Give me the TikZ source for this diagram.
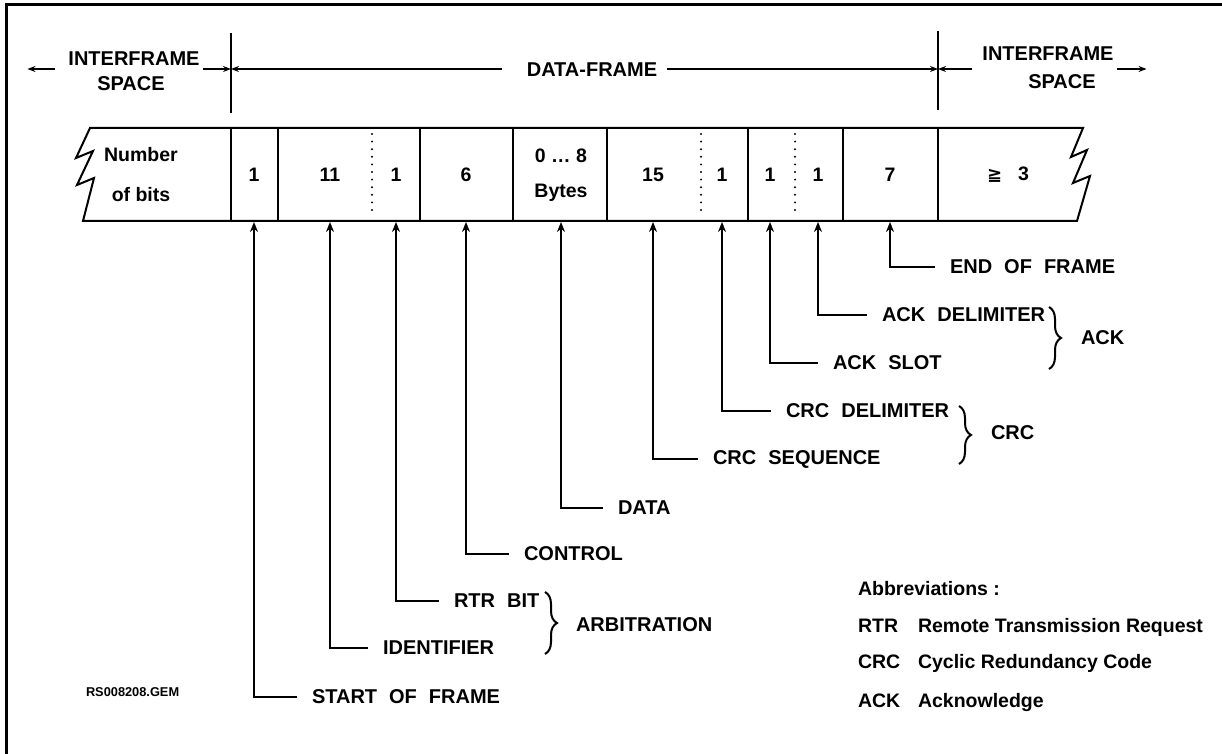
\documentclass[tikz,border=0pt]{standalone}
\usepackage{fontspec}
\setmainfont{Liberation Sans}
\newfontfamily\symfont{DejaVu Sans}
\usetikzlibrary{arrows.meta,decorations.pathreplacing,calc}
\newcommand\myWideSpaces{\spaceskip=0.6em\relax}
\begin{document}
\begin{tikzpicture}[x=0.5pt,y=-0.5pt,line width=1pt,
  capstxt/.style={font=\bfseries\fontsize{10}{12}\selectfont\myWideSpaces, inner sep=0pt},
  plaintxt/.style={font=\bfseries\fontsize{9.75}{12}\selectfont, inner sep=0pt},
  abbtxt/.style={plaintxt, anchor=base west},
  bitcell/.style={plaintxt, minimum height=46pt, align=center},
  bitlbl/.style={capstxt, anchor=west, inner xsep=7pt, inner ysep=0pt},
  uparr/.style={-{Stealth[length=5pt,width=4pt]}},
  dimarr/.style={-{Stealth[length=4pt,width=3pt]}},
  brc/.style={decorate, decoration={brace, amplitude=6pt, aspect=0.5}},
  dotdiv/.style={line width=1.1pt, dash pattern=on 0pt off 3.8pt, line cap=round}]
\useasboundingbox (0,0) rectangle (1222,754);
% frame border
\draw[line width=1.5pt] (6,754) -- (6,5) -- (1222,5);

% bar outline with torn ends
\draw (1083,128) -- (90,128) -- (76,158) -- (93,151) -- (77,185) -- (94,178) -- (83,221)
  -- (1077,221) -- (1090,176) -- (1073,183) -- (1087,150) -- (1071,157) -- cycle;

% dividers
\foreach \x in {231,278,420,513,607,748,843,938} \draw (\x,128) -- (\x,221);
\foreach \x in {372,701,795} \draw[dotdiv] (\x,134) -- (\x,217);

% cell contents
\node[bitcell, font=\bfseries\fontsize{9.75}{20}\selectfont] (c0) at (141,175) {Number\\of bits};
\node[bitcell] (c1) at (254,175) {1};
\node[bitcell] (c2) at (330,175) {11};
\node[bitcell] (c3) at (396,175) {1};
\node[bitcell] (c4) at (466,175) {6};
\node[bitcell, font=\bfseries\fontsize{9.75}{17.5}\selectfont] (c5) at (561,175) {0 … 8\\Bytes};
\node[bitcell] (c6) at (653,175) {15};
\node[bitcell] (c7) at (722,175) {1};
\node[bitcell] (c8) at (770,175) {1};
\node[bitcell] (c9) at (818,175) {1};
\node[bitcell] (c10) at (890,175) {7};
\node[bitcell] (c11) at (1008,175) {{\symfont\bfseries\fontsize{9}{12}\selectfont ≧}\hspace{8pt}3};

% top dimension line
\draw (231,33) -- (231,113);
\draw (938,31) -- (938,110);
\coordinate (tickL) at (231,69);
\coordinate (tickR) at (938,69);
\node[capstxt, inner xsep=1pt] (ifl1) at (134,59) {INTERFRAME};
\node[capstxt] (ifl2) at (131,84) {SPACE};
\node[capstxt, inner xsep=1pt] (ifr1) at (1048,54) {INTERFRAME};
\node[capstxt] (ifr2) at (1062,82) {SPACE};
\node[capstxt] (df) at (592,70) {DATA-FRAME};
\draw[dimarr] ($(ifl1.west |- tickL)+(-5pt,0)$) -- ++(-14pt,0);
\draw[dimarr] (ifl1.east |- tickL) -- (tickL);
\draw[dimarr] ($(df.west |- tickL)+(-12pt,0)$) -- (tickL);
\draw[dimarr] ($(df.east |- tickR)+(4.5pt,0)$) -- (tickR);
\draw[dimarr] ($(ifr1.west |- tickR)+(-3.5pt,0)$) -- (tickR);
\draw[dimarr] (ifr1.east |- tickR) -- ++(15pt,0);

% field labels
\node[bitlbl] (leof)  at (935,267) {END OF FRAME};
\node[bitlbl] (lackd) at (867,315) {ACK DELIMITER};
\node[bitlbl] (lacks) at (818,363) {ACK SLOT};
\node[bitlbl] (lcrcd) at (771,411) {CRC DELIMITER};
\node[bitlbl] (lcrcs) at (698,459) {CRC SEQUENCE};
\node[bitlbl] (ldata) at (603,508) {DATA};
\node[bitlbl] (lctl)  at (509,554) {CONTROL};
\node[bitlbl] (lrtr)  at (439,601) {RTR BIT};
\node[bitlbl] (lid)   at (368,648) {IDENTIFIER};
\node[bitlbl] (lsof)  at (297,697) {START OF FRAME};

\draw[uparr] (leof.west)  -| (c10.south);
\draw[uparr] (lackd.west) -| (c9.south);
\draw[uparr] (lacks.west) -| (c8.south);
\draw[uparr] (lcrcd.west) -| (c7.south);
\draw[uparr] (lcrcs.west) -| (c6.south);
\draw[uparr] (ldata.west) -| (c5.south);
\draw[uparr] (lctl.west)  -| (c4.south);
\draw[uparr] (lrtr.west)  -| (c3.south);
\draw[uparr] (lid.west)   -| (c2.south);
\draw[uparr] (lsof.west)  -| (c1.south);

% braces and group names
\draw[brc] (1049,307) -- (1049,369);
\node[capstxt, anchor=west] (gack) at (1080,338) {ACK};
\draw[brc] (959,406) -- (959,464);
\node[capstxt, anchor=west] (gcrc) at (990,433) {CRC};
\draw[brc] (545,592) -- (545,654);
\node[capstxt, anchor=west] (garb) at (575,625) {ARBITRATION};

% abbreviations
\node[abbtxt] (abh) at (857,595) {Abbreviations :};
\node[abbtxt] (ab1) at (857,632) {RTR};
\node[abbtxt] (ab1t) at (917,632) {Remote Transmission Request};
\node[abbtxt] (ab2) at (857,668) {CRC};
\node[abbtxt] (ab2t) at (917,668) {Cyclic Redundancy Code};
\node[abbtxt] (ab3) at (857,707) {ACK};
\node[abbtxt] (ab3t) at (917,707) {Acknowledge};

\node[font=\bfseries\fontsize{6.4}{8}\selectfont, inner sep=0pt, anchor=west] (rs) at (85,692) {RS008208.GEM};
\end{tikzpicture}
\end{document}
